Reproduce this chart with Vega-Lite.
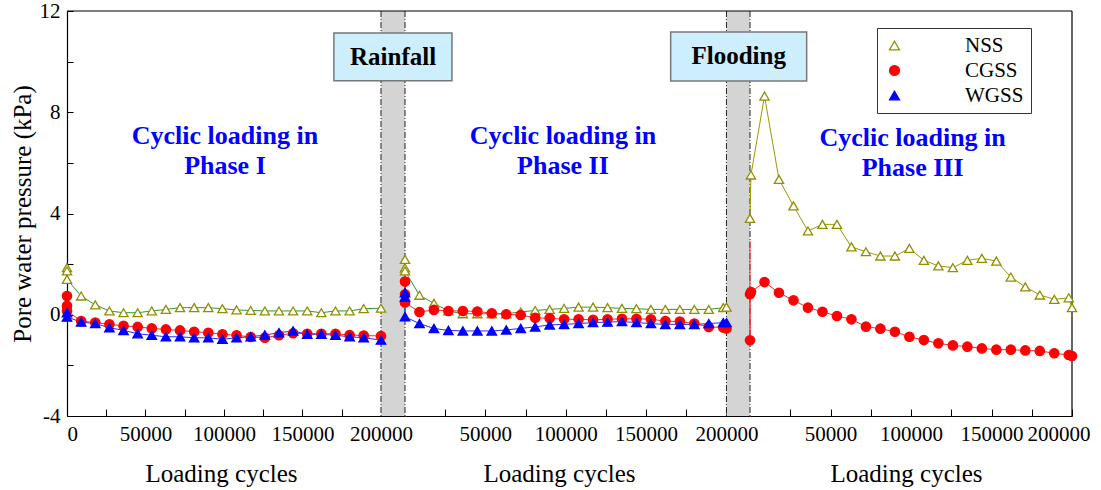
{
  "$schema": "https://vega.github.io/schema/vega-lite/v6.json",
  "padding": {"left": 10, "top": 0, "right": 5, "bottom": 5},
  "spacing": 0,
  "bounds": "flush",
  "resolve": {"scale": {"color": "independent"}, "legend": {"shape": "independent", "fill": "independent", "stroke": "independent", "size": "independent", "color": "independent"}},
  "config": {
    "view": {"stroke": null},
    "text": {"font": "Liberation Serif"},
    "axis": {"domainColor": "black", "tickColor": "black", "labelColor": "black", "titleColor": "black", "labelFont": "Liberation Serif", "titleFont": "Liberation Serif", "labelFontSize": 21, "titleFontSize": 25, "titleFontWeight": "normal", "grid": false, "domainWidth": 1.2, "tickWidth": 1, "labelOverlap": false}
  },
  "datasets": {
    "pwp": [
      {"phase":"I","series":"NSS","cycles":0,"value":1.86},{"phase":"I","series":"NSS","cycles":0,"value":1.73},{"phase":"I","series":"NSS","cycles":0,"value":1.40},{"phase":"I","series":"NSS","cycles":9000,"value":0.74},{"phase":"I","series":"NSS","cycles":18000,"value":0.39},{"phase":"I","series":"NSS","cycles":27000,"value":0.15},{"phase":"I","series":"NSS","cycles":36000,"value":0.08},{"phase":"I","series":"NSS","cycles":45000,"value":0.08},{"phase":"I","series":"NSS","cycles":54000,"value":0.15},{"phase":"I","series":"NSS","cycles":63000,"value":0.21},{"phase":"I","series":"NSS","cycles":72000,"value":0.28},{"phase":"I","series":"NSS","cycles":81000,"value":0.28},{"phase":"I","series":"NSS","cycles":90000,"value":0.28},{"phase":"I","series":"NSS","cycles":99000,"value":0.24},{"phase":"I","series":"NSS","cycles":108000,"value":0.19},{"phase":"I","series":"NSS","cycles":117000,"value":0.17},{"phase":"I","series":"NSS","cycles":126000,"value":0.15},{"phase":"I","series":"NSS","cycles":135000,"value":0.15},{"phase":"I","series":"NSS","cycles":144000,"value":0.15},{"phase":"I","series":"NSS","cycles":153000,"value":0.15},{"phase":"I","series":"NSS","cycles":162000,"value":0.08},{"phase":"I","series":"NSS","cycles":171000,"value":0.15},{"phase":"I","series":"NSS","cycles":180000,"value":0.15},{"phase":"I","series":"NSS","cycles":189000,"value":0.24},{"phase":"I","series":"NSS","cycles":200000,"value":0.26},
      {"phase":"I","series":"CGSS","cycles":0,"value":0.74},{"phase":"I","series":"CGSS","cycles":0,"value":0.35},{"phase":"I","series":"CGSS","cycles":0,"value":0.15},{"phase":"I","series":"CGSS","cycles":9000,"value":-0.25},{"phase":"I","series":"CGSS","cycles":18000,"value":-0.31},{"phase":"I","series":"CGSS","cycles":27000,"value":-0.38},{"phase":"I","series":"CGSS","cycles":36000,"value":-0.44},{"phase":"I","series":"CGSS","cycles":45000,"value":-0.48},{"phase":"I","series":"CGSS","cycles":54000,"value":-0.54},{"phase":"I","series":"CGSS","cycles":63000,"value":-0.58},{"phase":"I","series":"CGSS","cycles":72000,"value":-0.62},{"phase":"I","series":"CGSS","cycles":81000,"value":-0.67},{"phase":"I","series":"CGSS","cycles":90000,"value":-0.71},{"phase":"I","series":"CGSS","cycles":99000,"value":-0.77},{"phase":"I","series":"CGSS","cycles":108000,"value":-0.81},{"phase":"I","series":"CGSS","cycles":117000,"value":-0.88},{"phase":"I","series":"CGSS","cycles":126000,"value":-0.91},{"phase":"I","series":"CGSS","cycles":135000,"value":-0.81},{"phase":"I","series":"CGSS","cycles":144000,"value":-0.73},{"phase":"I","series":"CGSS","cycles":153000,"value":-0.75},{"phase":"I","series":"CGSS","cycles":162000,"value":-0.75},{"phase":"I","series":"CGSS","cycles":171000,"value":-0.75},{"phase":"I","series":"CGSS","cycles":180000,"value":-0.8},{"phase":"I","series":"CGSS","cycles":189000,"value":-0.82},{"phase":"I","series":"CGSS","cycles":200000,"value":-0.84},
      {"phase":"I","series":"WGSS","cycles":0,"value":0.08},{"phase":"I","series":"WGSS","cycles":0,"value":-0.09},{"phase":"I","series":"WGSS","cycles":9000,"value":-0.29},{"phase":"I","series":"WGSS","cycles":18000,"value":-0.35},{"phase":"I","series":"WGSS","cycles":27000,"value":-0.51},{"phase":"I","series":"WGSS","cycles":36000,"value":-0.62},{"phase":"I","series":"WGSS","cycles":45000,"value":-0.75},{"phase":"I","series":"WGSS","cycles":54000,"value":-0.81},{"phase":"I","series":"WGSS","cycles":63000,"value":-0.87},{"phase":"I","series":"WGSS","cycles":72000,"value":-0.87},{"phase":"I","series":"WGSS","cycles":81000,"value":-0.91},{"phase":"I","series":"WGSS","cycles":90000,"value":-0.91},{"phase":"I","series":"WGSS","cycles":99000,"value":-0.97},{"phase":"I","series":"WGSS","cycles":108000,"value":-0.91},{"phase":"I","series":"WGSS","cycles":117000,"value":-0.87},{"phase":"I","series":"WGSS","cycles":126000,"value":-0.8},{"phase":"I","series":"WGSS","cycles":135000,"value":-0.71},{"phase":"I","series":"WGSS","cycles":144000,"value":-0.64},{"phase":"I","series":"WGSS","cycles":153000,"value":-0.77},{"phase":"I","series":"WGSS","cycles":162000,"value":-0.77},{"phase":"I","series":"WGSS","cycles":171000,"value":-0.81},{"phase":"I","series":"WGSS","cycles":180000,"value":-0.87},{"phase":"I","series":"WGSS","cycles":189000,"value":-0.91},{"phase":"I","series":"WGSS","cycles":200000,"value":-1.0},
      {"phase":"II","series":"NSS","cycles":0,"value":2.19},{"phase":"II","series":"NSS","cycles":0,"value":1.85},{"phase":"II","series":"NSS","cycles":0,"value":1.73},{"phase":"II","series":"NSS","cycles":9000,"value":0.77},{"phase":"II","series":"NSS","cycles":18000,"value":0.45},{"phase":"II","series":"NSS","cycles":27000,"value":0.15},{"phase":"II","series":"NSS","cycles":36000,"value":0.04},{"phase":"II","series":"NSS","cycles":45000,"value":0.04},{"phase":"II","series":"NSS","cycles":54000,"value":0.04},{"phase":"II","series":"NSS","cycles":63000,"value":0.04},{"phase":"II","series":"NSS","cycles":72000,"value":0.11},{"phase":"II","series":"NSS","cycles":81000,"value":0.17},{"phase":"II","series":"NSS","cycles":90000,"value":0.21},{"phase":"II","series":"NSS","cycles":99000,"value":0.25},{"phase":"II","series":"NSS","cycles":108000,"value":0.3},{"phase":"II","series":"NSS","cycles":117000,"value":0.3},{"phase":"II","series":"NSS","cycles":126000,"value":0.28},{"phase":"II","series":"NSS","cycles":135000,"value":0.25},{"phase":"II","series":"NSS","cycles":144000,"value":0.24},{"phase":"II","series":"NSS","cycles":153000,"value":0.21},{"phase":"II","series":"NSS","cycles":162000,"value":0.21},{"phase":"II","series":"NSS","cycles":171000,"value":0.21},{"phase":"II","series":"NSS","cycles":180000,"value":0.21},{"phase":"II","series":"NSS","cycles":189000,"value":0.21},{"phase":"II","series":"NSS","cycles":198000,"value":0.28},{"phase":"II","series":"NSS","cycles":200000,"value":0.3},
      {"phase":"II","series":"CGSS","cycles":0,"value":1.31},{"phase":"II","series":"CGSS","cycles":0,"value":0.81},{"phase":"II","series":"CGSS","cycles":0,"value":0.48},{"phase":"II","series":"CGSS","cycles":9000,"value":0.11},{"phase":"II","series":"CGSS","cycles":18000,"value":0.19},{"phase":"II","series":"CGSS","cycles":27000,"value":0.15},{"phase":"II","series":"CGSS","cycles":36000,"value":0.15},{"phase":"II","series":"CGSS","cycles":45000,"value":0.13},{"phase":"II","series":"CGSS","cycles":54000,"value":0.06},{"phase":"II","series":"CGSS","cycles":63000,"value":0.02},{"phase":"II","series":"CGSS","cycles":72000,"value":-0.01},{"phase":"II","series":"CGSS","cycles":81000,"value":-0.12},{"phase":"II","series":"CGSS","cycles":90000,"value":-0.14},{"phase":"II","series":"CGSS","cycles":99000,"value":-0.18},{"phase":"II","series":"CGSS","cycles":108000,"value":-0.18},{"phase":"II","series":"CGSS","cycles":117000,"value":-0.2},{"phase":"II","series":"CGSS","cycles":126000,"value":-0.18},{"phase":"II","series":"CGSS","cycles":135000,"value":-0.16},{"phase":"II","series":"CGSS","cycles":144000,"value":-0.16},{"phase":"II","series":"CGSS","cycles":153000,"value":-0.18},{"phase":"II","series":"CGSS","cycles":162000,"value":-0.25},{"phase":"II","series":"CGSS","cycles":171000,"value":-0.27},{"phase":"II","series":"CGSS","cycles":180000,"value":-0.35},{"phase":"II","series":"CGSS","cycles":189000,"value":-0.48},{"phase":"II","series":"CGSS","cycles":198000,"value":-0.5},{"phase":"II","series":"CGSS","cycles":200000,"value":-0.54},
      {"phase":"II","series":"WGSS","cycles":0,"value":0.87},{"phase":"II","series":"WGSS","cycles":0,"value":0.7},{"phase":"II","series":"WGSS","cycles":0,"value":-0.08},{"phase":"II","series":"WGSS","cycles":9000,"value":-0.35},{"phase":"II","series":"WGSS","cycles":18000,"value":-0.54},{"phase":"II","series":"WGSS","cycles":27000,"value":-0.62},{"phase":"II","series":"WGSS","cycles":36000,"value":-0.64},{"phase":"II","series":"WGSS","cycles":45000,"value":-0.64},{"phase":"II","series":"WGSS","cycles":54000,"value":-0.64},{"phase":"II","series":"WGSS","cycles":63000,"value":-0.6},{"phase":"II","series":"WGSS","cycles":72000,"value":-0.54},{"phase":"II","series":"WGSS","cycles":81000,"value":-0.48},{"phase":"II","series":"WGSS","cycles":90000,"value":-0.4},{"phase":"II","series":"WGSS","cycles":99000,"value":-0.38},{"phase":"II","series":"WGSS","cycles":108000,"value":-0.35},{"phase":"II","series":"WGSS","cycles":117000,"value":-0.31},{"phase":"II","series":"WGSS","cycles":126000,"value":-0.29},{"phase":"II","series":"WGSS","cycles":135000,"value":-0.27},{"phase":"II","series":"WGSS","cycles":144000,"value":-0.31},{"phase":"II","series":"WGSS","cycles":153000,"value":-0.35},{"phase":"II","series":"WGSS","cycles":162000,"value":-0.38},{"phase":"II","series":"WGSS","cycles":171000,"value":-0.38},{"phase":"II","series":"WGSS","cycles":180000,"value":-0.38},{"phase":"II","series":"WGSS","cycles":189000,"value":-0.35},{"phase":"II","series":"WGSS","cycles":198000,"value":-0.31},{"phase":"II","series":"WGSS","cycles":200000,"value":-0.31},
      {"phase":"III","series":"NSS","cycles":0,"value":3.81},{"phase":"III","series":"NSS","cycles":600,"value":5.52},{"phase":"III","series":"NSS","cycles":9000,"value":8.64},{"phase":"III","series":"NSS","cycles":18000,"value":5.35},{"phase":"III","series":"NSS","cycles":27000,"value":4.3},{"phase":"III","series":"NSS","cycles":36000,"value":3.31},{"phase":"III","series":"NSS","cycles":45000,"value":3.57},{"phase":"III","series":"NSS","cycles":54000,"value":3.57},{"phase":"III","series":"NSS","cycles":63000,"value":2.68},{"phase":"III","series":"NSS","cycles":72000,"value":2.49},{"phase":"III","series":"NSS","cycles":81000,"value":2.32},{"phase":"III","series":"NSS","cycles":90000,"value":2.32},{"phase":"III","series":"NSS","cycles":99000,"value":2.62},{"phase":"III","series":"NSS","cycles":108000,"value":2.15},{"phase":"III","series":"NSS","cycles":117000,"value":1.93},{"phase":"III","series":"NSS","cycles":126000,"value":1.86},{"phase":"III","series":"NSS","cycles":135000,"value":2.15},{"phase":"III","series":"NSS","cycles":144000,"value":2.23},{"phase":"III","series":"NSS","cycles":153000,"value":2.12},{"phase":"III","series":"NSS","cycles":162000,"value":1.49},{"phase":"III","series":"NSS","cycles":171000,"value":1.1},{"phase":"III","series":"NSS","cycles":180000,"value":0.78},{"phase":"III","series":"NSS","cycles":189000,"value":0.61},{"phase":"III","series":"NSS","cycles":198000,"value":0.67},{"phase":"III","series":"NSS","cycles":200000,"value":0.28},
      {"phase":"III","series":"CGSS","cycles":0,"value":2.91,"reading":"transient"},{"phase":"III","series":"CGSS","cycles":0,"value":-1.01},{"phase":"III","series":"CGSS","cycles":0,"value":0.81},{"phase":"III","series":"CGSS","cycles":600,"value":0.9},{"phase":"III","series":"CGSS","cycles":9000,"value":1.29},{"phase":"III","series":"CGSS","cycles":18000,"value":0.87},{"phase":"III","series":"CGSS","cycles":27000,"value":0.57},{"phase":"III","series":"CGSS","cycles":36000,"value":0.28},{"phase":"III","series":"CGSS","cycles":45000,"value":0.12},{"phase":"III","series":"CGSS","cycles":54000,"value":-0.05},{"phase":"III","series":"CGSS","cycles":63000,"value":-0.18},{"phase":"III","series":"CGSS","cycles":72000,"value":-0.47},{"phase":"III","series":"CGSS","cycles":81000,"value":-0.55},{"phase":"III","series":"CGSS","cycles":90000,"value":-0.67},{"phase":"III","series":"CGSS","cycles":99000,"value":-0.87},{"phase":"III","series":"CGSS","cycles":108000,"value":-1.0},{"phase":"III","series":"CGSS","cycles":117000,"value":-1.13},{"phase":"III","series":"CGSS","cycles":126000,"value":-1.21},{"phase":"III","series":"CGSS","cycles":135000,"value":-1.26},{"phase":"III","series":"CGSS","cycles":144000,"value":-1.33},{"phase":"III","series":"CGSS","cycles":153000,"value":-1.38},{"phase":"III","series":"CGSS","cycles":162000,"value":-1.38},{"phase":"III","series":"CGSS","cycles":171000,"value":-1.41},{"phase":"III","series":"CGSS","cycles":180000,"value":-1.43},{"phase":"III","series":"CGSS","cycles":189000,"value":-1.52},{"phase":"III","series":"CGSS","cycles":198000,"value":-1.59},{"phase":"III","series":"CGSS","cycles":200000,"value":-1.63}
    ]
  },
  "hconcat": [
    {
      "width": 338, "height": 405,
      "layer": [
        {"data": {"values": [{}]}, "mark": {"type": "rect", "fill": "#d4d4d4"},
         "encoding": {"x": {"datum": 200000, "type": "quantitative", "scale": {"domain": [0, 215290], "nice": false, "zero": false}}, "x2": {"datum": 215290},
                      "y": {"datum": 12, "type": "quantitative", "scale": {"domain": [-4, 12], "nice": false, "zero": false}}, "y2": {"datum": -4}}},
        {"data": {"values": [{}]}, "mark": {"type": "rule", "color": "#222222", "strokeDash": [6, 2, 1, 2], "strokeWidth": 1},
         "encoding": {"x": {"datum": 200000, "type": "quantitative", "scale": {"domain": [0, 215290], "nice": false, "zero": false}}}},
        {"data": {"values": [{}]}, "mark": {"type": "rule", "color": "#222222", "strokeDash": [6, 2, 1, 2], "strokeWidth": 1},
         "encoding": {"x": {"datum": 215290, "type": "quantitative", "scale": {"domain": [0, 215290], "nice": false, "zero": false}}}},
        {"data": {"values": [{}]}, "mark": {"type": "rule", "color": "black", "strokeWidth": 1.2},
         "encoding": {"y": {"datum": 12, "type": "quantitative", "scale": {"domain": [-4, 12], "nice": false, "zero": false}}}},
        {"data": {"name": "pwp"}, "transform": [{"filter": "datum.phase == 'I'"}],
         "mark": {"type": "line", "strokeWidth": 1},
         "encoding": {
           "x": {"field": "cycles", "type": "quantitative", "scale": {"domain": [0, 215290], "nice": false, "zero": false},
                 "axis": {"title": "Loading cycles", "values": [0, 25000, 50000, 75000, 100000, 125000, 150000, 175000, 200000], "format": "d", "labelExpr": "datum.value % 50000 == 0 ? datum.label : ''", "tickSize": -7, "labelPadding": 14, "titleX": 154, "titleY": 65, "titleAlign": "center", "titleBaseline": "alphabetic"}},
           "y": {"field": "value", "type": "quantitative", "scale": {"domain": [-4, 12], "nice": false, "zero": false},
                 "axis": {"title": "Pore water pressure (kPa)", "values": [-4, -2, 0, 2, 4, 6, 8, 10, 12], "labelExpr": "datum.value % 4 == 0 ? '' + datum.value : ''", "tickSize": -6, "labelPadding": 13, "titlePadding": 4}},
           "color": {"field": "series", "type": "nominal", "scale": {"domain": ["WGSS", "CGSS", "NSS"], "range": ["#2a2aff", "#ff2a2a", "#2e9a2e"]}, "legend": null},
           "order": {"value": null}
         }},
        {"data": {"name": "pwp"}, "transform": [{"filter": "datum.phase == 'I' && datum.reading != 'transient'"}],
         "mark": {"type": "point", "filled": true, "opacity": 1, "strokeWidth": 1.3},
         "encoding": {
           "x": {"field": "cycles", "type": "quantitative", "scale": {"domain": [0, 215290], "nice": false, "zero": false}},
           "y": {"field": "value", "type": "quantitative", "scale": {"domain": [-4, 12], "nice": false, "zero": false}},
           "shape": {"field": "series", "type": "nominal", "scale": {"domain": ["NSS", "CGSS", "WGSS"], "range": ["triangle-up", "circle", "triangle-up"]}, "legend": null},
           "fill": {"field": "series", "type": "nominal", "scale": {"domain": ["NSS", "CGSS", "WGSS"], "range": ["white", "#ff0000", "#0000ff"]}, "legend": null},
           "stroke": {"field": "series", "type": "nominal", "scale": {"domain": ["NSS", "CGSS", "WGSS"], "range": ["#8f8f00", "#ff0000", "#0000ff"]}, "legend": null},
           "size": {"field": "series", "type": "nominal", "scale": {"domain": ["WGSS", "CGSS", "NSS"], "range": [90, 85, 110]}, "legend": null}
         }},
        {"data": {"values": [{}]}, "mark": {"type": "text", "text": ["Cyclic loading in", "Phase I"], "fontSize": 26, "fontWeight": "bold", "color": "#0000ff", "lineHeight": 30, "align": "center", "baseline": "middle"},
         "encoding": {"x": {"datum": 100600, "type": "quantitative", "scale": {"domain": [0, 215290], "nice": false, "zero": false}}, "y": {"datum": 7.06, "type": "quantitative", "scale": {"domain": [-4, 12], "nice": false, "zero": false}}}},
        {"data": {"values": [{}]}, "mark": {"type": "rect", "fill": "#cdeefd", "stroke": "#777777", "strokeWidth": 1.5},
         "encoding": {"x": {"datum": 170000, "type": "quantitative", "scale": {"domain": [0, 215290], "nice": false, "zero": false}}, "x2": {"datum": 245200},
                      "y": {"datum": 11.13, "type": "quantitative", "scale": {"domain": [-4, 12], "nice": false, "zero": false}}, "y2": {"datum": 9.24}}},
        {"data": {"values": [{}]}, "mark": {"type": "text", "text": "Rainfall", "fontSize": 25, "fontWeight": "bold", "color": "black", "align": "center", "baseline": "middle"},
         "encoding": {"x": {"datum": 207700, "type": "quantitative", "scale": {"domain": [0, 215290], "nice": false, "zero": false}}, "y": {"datum": 10.2, "type": "quantitative", "scale": {"domain": [-4, 12], "nice": false, "zero": false}}}}
      ]
    },
    {
      "width": 345, "height": 405,
      "layer": [
        {"data": {"values": [{}]}, "mark": {"type": "rect", "fill": "#d4d4d4"},
         "encoding": {"x": {"datum": 200000, "type": "quantitative", "scale": {"domain": [0, 214650], "nice": false, "zero": false}}, "x2": {"datum": 214650},
                      "y": {"datum": 12, "type": "quantitative", "scale": {"domain": [-4, 12], "nice": false, "zero": false}, "axis": null}, "y2": {"datum": -4}}},
        {"data": {"values": [{}]}, "mark": {"type": "rule", "color": "#222222", "strokeDash": [6, 2, 1, 2], "strokeWidth": 1},
         "encoding": {"x": {"datum": 200000, "type": "quantitative", "scale": {"domain": [0, 214650], "nice": false, "zero": false}}}},
        {"data": {"values": [{}]}, "mark": {"type": "rule", "color": "#222222", "strokeDash": [6, 2, 1, 2], "strokeWidth": 1},
         "encoding": {"x": {"datum": 214650, "type": "quantitative", "scale": {"domain": [0, 214650], "nice": false, "zero": false}}}},
        {"data": {"values": [{}]}, "mark": {"type": "rule", "color": "black", "strokeWidth": 1.2},
         "encoding": {"y": {"datum": 12, "type": "quantitative", "scale": {"domain": [-4, 12], "nice": false, "zero": false}, "axis": null}}},
        {"data": {"name": "pwp"}, "transform": [{"filter": "datum.phase == 'II'"}],
         "mark": {"type": "line", "strokeWidth": 1},
         "encoding": {
           "x": {"field": "cycles", "type": "quantitative", "scale": {"domain": [0, 214650], "nice": false, "zero": false},
                 "axis": {"title": "Loading cycles", "values": [25000, 50000, 75000, 100000, 125000, 150000, 175000, 200000], "format": "d", "labelExpr": "datum.value % 50000 == 0 ? datum.label : ''", "tickSize": -7, "labelPadding": 14, "titleX": 154, "titleY": 65, "titleAlign": "center", "titleBaseline": "alphabetic"}},
           "y": {"field": "value", "type": "quantitative", "scale": {"domain": [-4, 12], "nice": false, "zero": false}, "axis": null},
           "color": {"field": "series", "type": "nominal", "scale": {"domain": ["WGSS", "CGSS", "NSS"], "range": ["#2a2aff", "#ff2a2a", "#2e9a2e"]}, "legend": null},
           "order": {"value": null}
         }},
        {"data": {"name": "pwp"}, "transform": [{"filter": "datum.phase == 'II' && datum.reading != 'transient'"}],
         "mark": {"type": "point", "filled": true, "opacity": 1, "strokeWidth": 1.3},
         "encoding": {
           "x": {"field": "cycles", "type": "quantitative", "scale": {"domain": [0, 214650], "nice": false, "zero": false}},
           "y": {"field": "value", "type": "quantitative", "scale": {"domain": [-4, 12], "nice": false, "zero": false}, "axis": null},
           "shape": {"field": "series", "type": "nominal", "scale": {"domain": ["NSS", "CGSS", "WGSS"], "range": ["triangle-up", "circle", "triangle-up"]}, "legend": null},
           "fill": {"field": "series", "type": "nominal", "scale": {"domain": ["NSS", "CGSS", "WGSS"], "range": ["white", "#ff0000", "#0000ff"]}, "legend": null},
           "stroke": {"field": "series", "type": "nominal", "scale": {"domain": ["NSS", "CGSS", "WGSS"], "range": ["#8f8f00", "#ff0000", "#0000ff"]}, "legend": null},
           "size": {"field": "series", "type": "nominal", "scale": {"domain": ["WGSS", "CGSS", "NSS"], "range": [90, 85, 110]}, "legend": null}
         }},
        {"data": {"values": [{}]}, "mark": {"type": "text", "text": ["Cyclic loading in", "Phase II"], "fontSize": 26, "fontWeight": "bold", "color": "#0000ff", "lineHeight": 30, "align": "center", "baseline": "middle"},
         "encoding": {"x": {"datum": 98300, "type": "quantitative", "scale": {"domain": [0, 214650], "nice": false, "zero": false}}, "y": {"datum": 7.06, "type": "quantitative", "scale": {"domain": [-4, 12], "nice": false, "zero": false}, "axis": null}}},
        {"data": {"values": [{}]}, "mark": {"type": "rect", "fill": "#cdeefd", "stroke": "#777777", "strokeWidth": 1.5},
         "encoding": {"x": {"datum": 165300, "type": "quantitative", "scale": {"domain": [0, 214650], "nice": false, "zero": false}}, "x2": {"datum": 249900},
                      "y": {"datum": 11.17, "type": "quantitative", "scale": {"domain": [-4, 12], "nice": false, "zero": false}, "axis": null}, "y2": {"datum": 9.235}}},
        {"data": {"values": [{}]}, "mark": {"type": "text", "text": "Flooding", "fontSize": 25, "fontWeight": "bold", "color": "black", "align": "center", "baseline": "middle"},
         "encoding": {"x": {"datum": 207600, "type": "quantitative", "scale": {"domain": [0, 214650], "nice": false, "zero": false}}, "y": {"datum": 10.22, "type": "quantitative", "scale": {"domain": [-4, 12], "nice": false, "zero": false}, "axis": null}}}
      ]
    },
    {
      "width": 322, "height": 405,
      "layer": [
        {"data": {"values": [{}]}, "mark": {"type": "rule", "color": "black", "strokeWidth": 1.2},
         "encoding": {"y": {"datum": 12, "type": "quantitative", "scale": {"domain": [-4, 12], "nice": false, "zero": false}, "axis": null}}},
        {"data": {"values": [{}]}, "mark": {"type": "rule", "color": "black", "strokeWidth": 1.2},
         "encoding": {"x": {"datum": 200000, "type": "quantitative", "scale": {"domain": [0, 200000], "nice": false, "zero": false}}}},
        {"data": {"name": "pwp"}, "transform": [{"filter": "datum.phase == 'III'"}],
         "mark": {"type": "line", "strokeWidth": 1},
         "encoding": {
           "x": {"field": "cycles", "type": "quantitative", "scale": {"domain": [0, 200000], "nice": false, "zero": false},
                 "axis": {"title": "Loading cycles", "values": [25000, 50000, 75000, 100000, 125000, 150000, 175000, 200000], "format": "d", "labelExpr": "datum.value % 50000 == 0 ? datum.label : ''", "tickSize": -7, "labelPadding": 14, "labelFlush": true, "labelFlushOffset": 18, "titleX": 156, "titleY": 65, "titleAlign": "center", "titleBaseline": "alphabetic"}},
           "y": {"field": "value", "type": "quantitative", "scale": {"domain": [-4, 12], "nice": false, "zero": false}, "axis": null},
           "color": {"field": "series", "type": "nominal", "scale": {"domain": ["WGSS", "CGSS", "NSS"], "range": ["#2a2aff", "#ff2a2a", "#9a9a00"]}, "legend": null},
           "order": {"value": null}
         }},
        {"data": {"name": "pwp"}, "transform": [{"filter": "datum.phase == 'III' && datum.reading != 'transient'"}],
         "mark": {"type": "point", "filled": true, "opacity": 1, "strokeWidth": 1.3},
         "encoding": {
           "x": {"field": "cycles", "type": "quantitative", "scale": {"domain": [0, 200000], "nice": false, "zero": false}},
           "y": {"field": "value", "type": "quantitative", "scale": {"domain": [-4, 12], "nice": false, "zero": false}, "axis": null},
           "shape": {"field": "series", "type": "nominal", "scale": {"domain": ["NSS", "CGSS", "WGSS"], "range": ["triangle-up", "circle", "triangle-up"]},
                     "legend": {"title": null, "orient": "none", "legendX": 127, "legendY": 17, "symbolSize": 100, "symbolStrokeWidth": 1.2, "labelOffset": 60, "rowPadding": 3, "padding": 7, "strokeColor": "#333333", "fillColor": "white", "labelFont": "Liberation Serif", "labelFontSize": 21, "labelColor": "black"}},
           "fill": {"field": "series", "type": "nominal", "scale": {"domain": ["NSS", "CGSS", "WGSS"], "range": ["white", "#ff0000", "#0000ff"]}},
           "stroke": {"field": "series", "type": "nominal", "scale": {"domain": ["NSS", "CGSS", "WGSS"], "range": ["#8f8f00", "#ff0000", "#0000ff"]}},
           "size": {"field": "series", "type": "nominal", "scale": {"domain": ["WGSS", "CGSS", "NSS"], "range": [90, 85, 110]}, "legend": null}
         }},
        {"data": {"values": [{}]}, "mark": {"type": "text", "text": ["Cyclic loading in", "Phase III"], "fontSize": 26, "fontWeight": "bold", "color": "#0000ff", "lineHeight": 30, "align": "center", "baseline": "middle"},
         "encoding": {"x": {"datum": 101000, "type": "quantitative", "scale": {"domain": [0, 200000], "nice": false, "zero": false}}, "y": {"datum": 6.98, "type": "quantitative", "scale": {"domain": [-4, 12], "nice": false, "zero": false}, "axis": null}}}
      ]
    }
  ]
}
